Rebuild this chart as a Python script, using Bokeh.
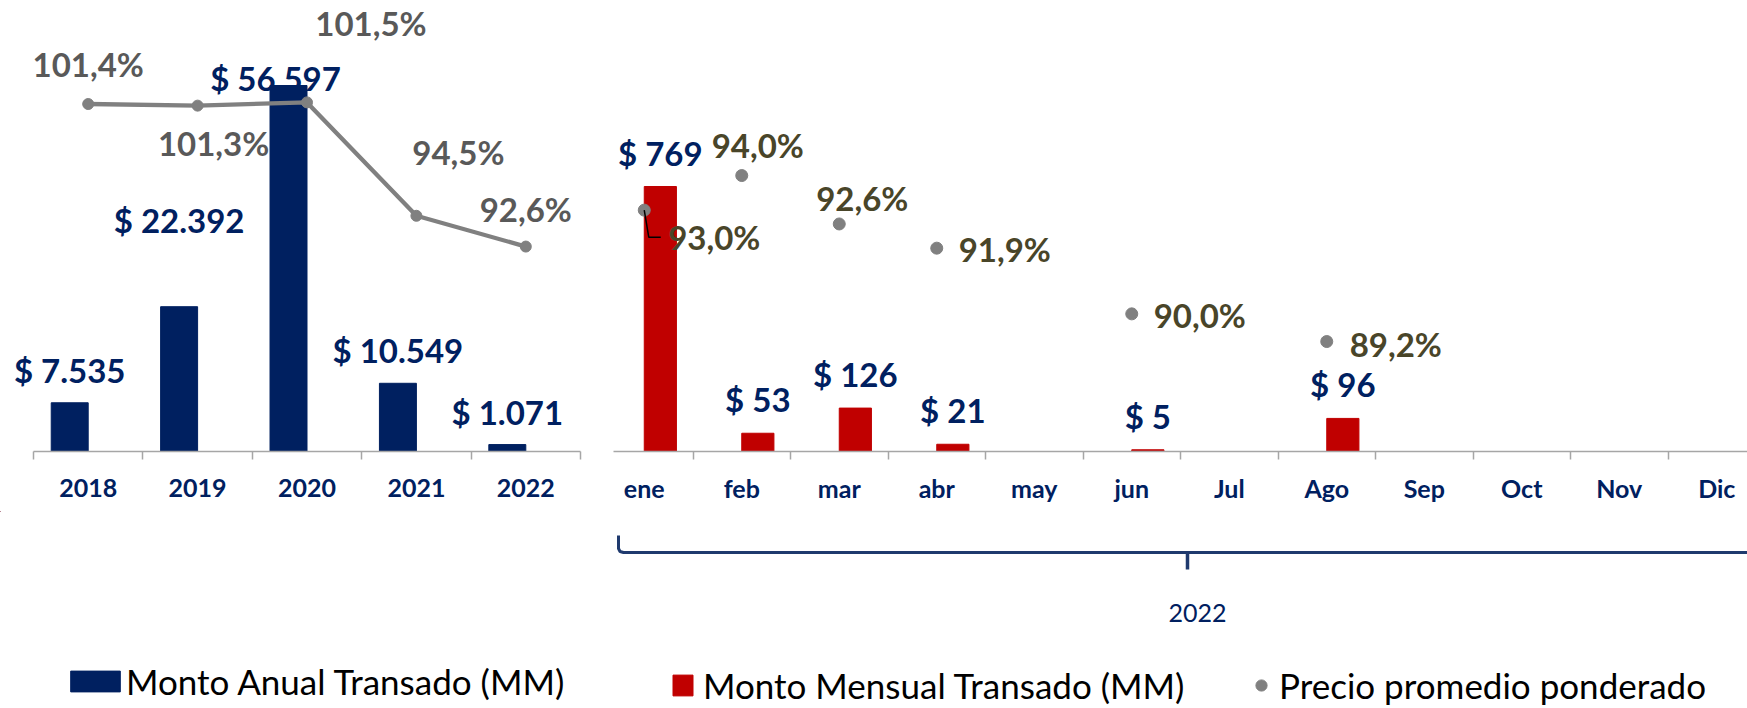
from bokeh.plotting import figure
from bokeh.models import (ColumnDataSource, FactorRange, Range1d, LinearAxis, CategoricalAxis,
                          FixedTicker, Legend, LegendItem, AllLabels)
from bokeh.layouts import row, column
from bokeh.transform import dodge
from bokeh.core.properties import value
from bokeh.embed import file_html
from bokeh.resources import INLINE

# ---------------- data ----------------
years = ["2018", "2019", "2020", "2021", "2022"]
annual_amount = [7535, 22392, 56597, 10549, 1071]
annual_price = [101.4, 101.3, 101.5, 94.5, 92.6]

months = ["ene", "feb", "mar", "abr", "may", "jun", "Jul", "Ago", "Sep", "Oct", "Nov", "Dic"]
monthly_amount = [769, 53, 126, 21, None, 5, None, 96, None, None, None, None]
monthly_price = [93.0, 94.0, 92.6, 91.9, None, 90.0, None, 89.2, None, None, None, None]

period_label = "2022"
legend_labels = ["Monto Anual Transado (MM)", "Monto Mensual Transado (MM)", "Precio promedio ponderado"]

# label nudges in screen px: (right, up)
annual_amount_nudge = [(0, 33), (0, 87), (-13, 8), (0, 33), (0, 33)]
annual_price_nudge = [(0, 40), (16, -37), (64, 79), (42, 64), (0, 38)]
monthly_amount_nudge_up = 34
monthly_price_nudge = {"ene": (70, -27), "feb": (16, 31), "mar": (23, 26),
                       "abr": (68, -1), "jun": (68, -1), "Ago": (69, -2)}

# ---------------- styles / geometry ----------------
NAVY = "#002060"
RED = "#C00000"
GRAY = "#808080"
PCT_L = "#595959"
PCT_R = "#494529"
AXIS = "#A6A6A6"
BRACE = "#1F3A6E"
FONT = "Lato"

PAGE_W, PAGE_H = 1747, 708
FRAME_H = 451          # plot frame from y=0 to the baseline
BOTTOM = 60
L_FW = 613             # left frame width (categories 33..580)
L_PAD = 33 / 109.4     # padding in category units
R_FW = PAGE_W - L_FW   # right frame width
R_CAT = 97.5
R_PAD = -18 / R_CAT    # start the visible range slightly inside the first category


def fmt_money(v):
    return "$ " + f"{v:,.0f}".replace(",", ".")


def fmt_pct(v):
    return f"{v:.1f}".replace(".", ",") + "%"


def base_fig(factors, fw, pad, y_end, standoff):
    xr = FactorRange(factors=factors, range_padding=pad, range_padding_units="absolute")
    p = figure(x_range=xr, y_range=Range1d(0, y_end),
               frame_width=fw, frame_height=FRAME_H,
               min_border_left=0, min_border_right=0, min_border_top=0, min_border_bottom=BOTTOM,
               x_axis_location=None, y_axis_location=None,
               toolbar_location=None, output_backend="svg", outline_line_color=None)
    p.grid.visible = False
    ticks = list(range(len(factors) + 1))
    tick_axis = LinearAxis(ticker=FixedTicker(ticks=ticks), bounds=(0, len(factors)),
                           axis_line_color=AXIS, axis_line_width=1.5,
                           major_tick_line_color=AXIS, major_tick_line_width=1.5,
                           major_tick_out=8, major_tick_in=0,
                           minor_tick_out=0, minor_tick_in=0,
                           major_label_overrides={t: "" for t in ticks},
                           major_label_text_color=None,
                           major_label_text_font_size="1px", major_label_standoff=0)
    p.add_layout(tick_axis, "below")
    cat_axis = CategoricalAxis(axis_line_color=None, major_tick_line_color=None,
                               minor_tick_line_color=None, major_label_policy=AllLabels(),
                               major_label_text_font=FONT, major_label_text_font_style="bold",
                               major_label_text_font_size="25px", major_label_text_color=NAVY,
                               major_label_standoff=standoff)
    p.add_layout(cat_axis, "below")
    return p


# ---------------- left: annual ----------------
L_PX_PER_K = 366 / 56.597
L_PCT = (79.95, 79.95 + FRAME_H / 16.2)
left = base_fig(years, L_FW, L_PAD, FRAME_H / L_PX_PER_K * 1000, 13)
left.extra_y_ranges = {"pct": Range1d(*L_PCT)}

src_l = ColumnDataSource(dict(
    year=years, amount=annual_amount, price=annual_price,
    amount_label=[fmt_money(v) for v in annual_amount],
    price_label=[fmt_pct(v) for v in annual_price],
    a_dx=[n[0] for n in annual_amount_nudge], a_dy=[-n[1] for n in annual_amount_nudge],
    p_dx=[n[0] for n in annual_price_nudge], p_dy=[-n[1] for n in annual_price_nudge],
))
bar_x_l = dodge("year", -0.169, range=left.x_range)
left.vbar(x=bar_x_l, top="amount", width=0.338, source=src_l, color=NAVY)
left.line(x="year", y="price", y_range_name="pct", source=src_l, line_color=GRAY, line_width=4.3)
left.scatter(x="year", y="price", y_range_name="pct", source=src_l, size=11, color=GRAY)
left.text(x=bar_x_l, y="amount", text="amount_label", x_offset="a_dx", y_offset="a_dy",
          source=src_l, text_font=value(FONT), text_font_style="bold", text_font_size="33px",
          text_color=NAVY, text_align="center", text_baseline="middle")
left.text(x="year", y="price", text="price_label", x_offset="p_dx", y_offset="p_dy",
          y_range_name="pct", source=src_l, text_font=value(FONT), text_font_style="bold",
          text_font_size="33px", text_color=PCT_L, text_align="center", text_baseline="middle")

# ---------------- right: monthly ----------------
R_PX_PER_UNIT = 265 / 769
R_PCT = (86.02, 86.02 + FRAME_H / 34.58)
right = base_fig(months, R_FW, R_PAD, FRAME_H / R_PX_PER_UNIT, 7)
right.extra_y_ranges = {"pct": Range1d(*R_PCT)}

ia = [i for i, v in enumerate(monthly_amount) if v is not None]
src_ra = ColumnDataSource(dict(
    month=[months[i] for i in ia], amount=[monthly_amount[i] for i in ia],
    label=[fmt_money(monthly_amount[i]) for i in ia],
    dy=[-monthly_amount_nudge_up] * len(ia),
))
ip = [i for i, v in enumerate(monthly_price) if v is not None]
src_rp = ColumnDataSource(dict(
    month=[months[i] for i in ip], price=[monthly_price[i] for i in ip],
    label=[fmt_pct(monthly_price[i]) for i in ip],
    dx=[monthly_price_nudge[months[i]][0] for i in ip],
    dy=[-monthly_price_nudge[months[i]][1] for i in ip],
))
bar_x_r = dodge("month", 0.165, range=right.x_range)
right.vbar(x=bar_x_r, top="amount", width=0.33, source=src_ra, color=RED)
right.scatter(x="month", y="price", y_range_name="pct", source=src_rp, size=12, color=GRAY)

# leader line for the first month's price label
px_per_pct = FRAME_H / (R_PCT[1] - R_PCT[0])
i0 = ip[0]
x0 = i0 + 0.5
y0 = monthly_price[i0]
right.line(x=[x0, x0 + 4.5 / R_CAT, x0 + 16.5 / R_CAT],
           y=[y0, y0 - 27 / px_per_pct, y0 - 27 / px_per_pct],
           y_range_name="pct", line_color="black", line_width=1.5)

right.text(x=bar_x_r, y="amount", text="label", y_offset="dy", source=src_ra,
           text_font=value(FONT), text_font_style="bold", text_font_size="33px",
           text_color=NAVY, text_align="center", text_baseline="middle")
right.text(x="month", y="price", text="label", x_offset="dx", y_offset="dy",
           y_range_name="pct", source=src_rp, text_font=value(FONT), text_font_style="bold",
           text_font_size="33px", text_color=PCT_R, text_align="center", text_baseline="middle")

# ---------------- bottom strip: brace, period label, legend ----------------
TOP_Y = FRAME_H + BOTTOM
BOT_H = PAGE_H - TOP_Y
bottom = figure(width=PAGE_W, height=BOT_H,
                x_range=Range1d(0, PAGE_W), y_range=Range1d(PAGE_H, TOP_Y),
                min_border=0, x_axis_location=None, y_axis_location=None,
                toolbar_location=None, output_backend="svg", outline_line_color=None)
bottom.grid.visible = False
# brace (page pixel geometry)
bottom.line(x=[618, 618, 619.5, 623, PAGE_W + 20], y=[535, 548, 551, 552, 552],
            line_color=BRACE, line_width=3)
bottom.line(x=[1187, 1187], y=[552, 569], line_color=BRACE, line_width=3.5)
bottom.text(x=[1197], y=[612], text=[period_label], text_font=value(FONT), text_font_size="25px",
            text_color=NAVY, text_align="center", text_baseline="middle")

# legend proxies (kept off-canvas)
r1 = bottom.vbar(x=[-1000], top=[0], width=1, color=NAVY)
r2 = bottom.vbar(x=[-1000], top=[0], width=1, color=RED)
r3 = bottom.scatter(x=[-1000], y=[0], size=12, color=GRAY)

common = dict(orientation="horizontal", padding=0, margin=0, spacing=0,
              border_line_color=None, background_fill_alpha=0,
              label_text_font=FONT, label_text_font_size="35px", label_text_color="black")
leg1 = Legend(items=[LegendItem(label=legend_labels[0], renderers=[r1])], location=(64, 6),
              glyph_width=62, glyph_height=26, label_standoff=0, **common)
leg2 = Legend(items=[LegendItem(label=legend_labels[1], renderers=[r2])], location=(670, 2),
              glyph_width=25, glyph_height=26, label_standoff=8, **common)
leg3 = Legend(items=[LegendItem(label=legend_labels[2], renderers=[r3])], location=(1246, 2),
              glyph_width=30, glyph_height=28, label_standoff=3, **common)
for lg in (leg1, leg2, leg3):
    bottom.add_layout(lg)

layout = column(row(left, right), bottom)
open("out.html", "w").write(file_html(layout, INLINE))
